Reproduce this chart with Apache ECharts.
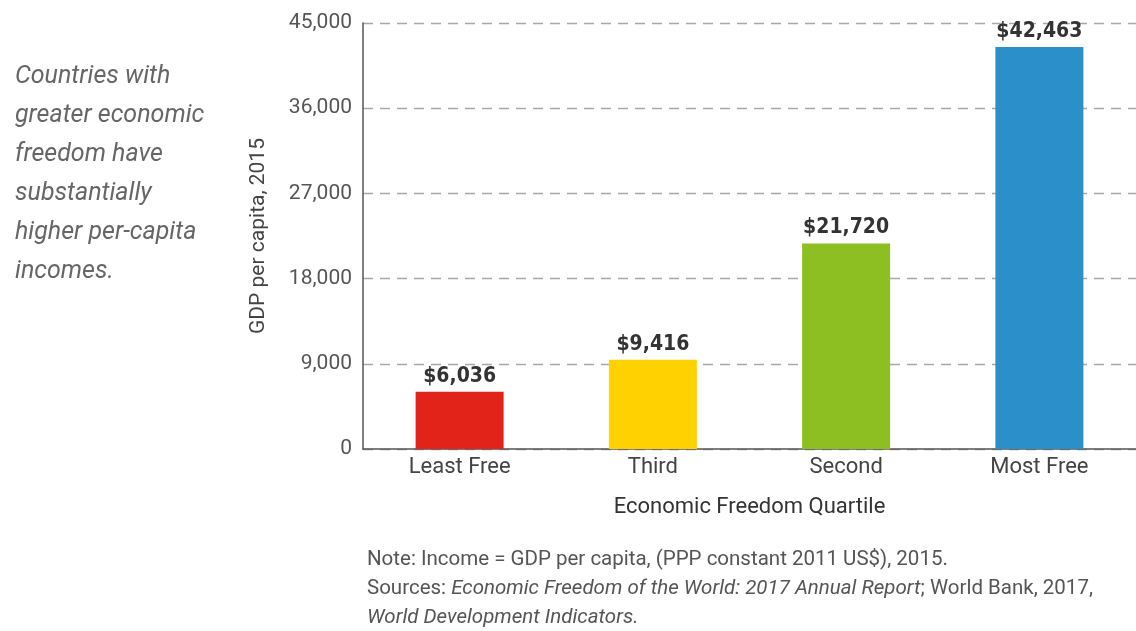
<!DOCTYPE html>
<html>
<head>
<meta charset="utf-8">
<style>
  html, body { margin: 0; padding: 0; background: #ffffff; }
  #chart { width: 1136px; height: 631px; }
</style>
<script src="https://cdn.jsdelivr.net/npm/echarts@6/dist/echarts.min.js"></script>
</head>
<body>
<div id="chart"></div>
<script>
// GDP per capita (PPP, constant 2011 US$) by economic freedom quartile, 2015
const quartiles = ['Least Free', 'Third', 'Second', 'Most Free'];
const gdpPerCapita = [6036, 9416, 21720, 42463];
const barColors = ['#E2231A', '#FFD100', '#8DBE22', '#2B8FCA'];
const yTicks = [0, 9000, 18000, 27000, 36000, 45000];

const sideNote = [
  'Countries with',
  'greater economic',
  'freedom have',
  'substantially',
  'higher per-capita',
  'incomes.'
];

const chart = echarts.init(document.getElementById('chart'));

const fmtThousands = v => v.toLocaleString('en-US');

chart.setOption({
  backgroundColor: '#ffffff',
  animation: false,
  grid: { left: 363, right: -6, top: 23, bottom: 182, containLabel: false },
  xAxis: {
    type: 'category',
    data: quartiles,
    name: 'Economic Freedom Quartile',
    nameLocation: 'middle',
    nameGap: 47,
    nameTextStyle: { fontFamily: 'Roboto', fontSize: 22, color: '#333333' },
    axisLine: { lineStyle: { color: '#555555', width: 1.5 } },
    axisTick: { show: false },
    axisLabel: { fontFamily: 'Roboto', fontSize: 22, color: '#444444', margin: 7 }
  },
  yAxis: {
    type: 'value',
    min: yTicks[0],
    max: yTicks[yTicks.length - 1],
    interval: yTicks[1] - yTicks[0],
    name: 'GDP per capita, 2015',
    nameLocation: 'middle',
    nameGap: 94,
    nameRotate: 90,
    nameTextStyle: { fontFamily: 'Roboto', fontSize: 21, color: '#444444' },
    axisLine: { show: true, lineStyle: { color: '#555555', width: 1.5 } },
    axisTick: { show: false },
    axisLabel: {
      fontFamily: 'Roboto', fontSize: 21, color: '#555555', margin: 11,
      formatter: v => fmtThousands(v)
    },
    splitLine: {
      show: true,
      lineStyle: { color: '#a8a8a8', width: 1.4, type: [10, 7] }
    }
  },
  series: [{
    type: 'bar',
    barWidth: 88,
    data: gdpPerCapita.map((v, i) => ({ value: v, itemStyle: { color: barColors[i] } })),
    label: {
      show: true,
      position: 'top',
      distance: 5,
      fontFamily: '"Liberation Sans Narrow", "DejaVu Sans Condensed", Roboto',
      fontWeight: 'bold',
      fontSize: 21,
      color: '#333333',
      formatter: p => '$' + fmtThousands(p.value)
    }
  }],
  graphic: [
    {
      type: 'text',
      left: 15,
      top: 57,
      style: {
        text: sideNote.join('\n'),
        font: 'italic 25px Roboto',
        lineHeight: 39,
        fill: '#666666'
      }
    },
    {
      type: 'text',
      left: 367,
      top: 549,
      style: {
        rich: {
          n: { fontFamily: 'Roboto', fontSize: 20.5, fill: '#555555', lineHeight: 29 },
          i: { fontFamily: 'Roboto', fontStyle: 'italic', fontSize: 20.5, fill: '#555555', lineHeight: 29 }
        },
        text: '{n|Note: Income = GDP per capita, (PPP constant 2011 US$), 2015.}\n' +
              '{n|Sources: }{i|Economic Freedom of the World: 2017 Annual Report}{n|; World Bank, 2017,}\n' +
              '{i|World Development Indicators.}'
      }
    }
  ]
});
</script>
</body>
</html>
